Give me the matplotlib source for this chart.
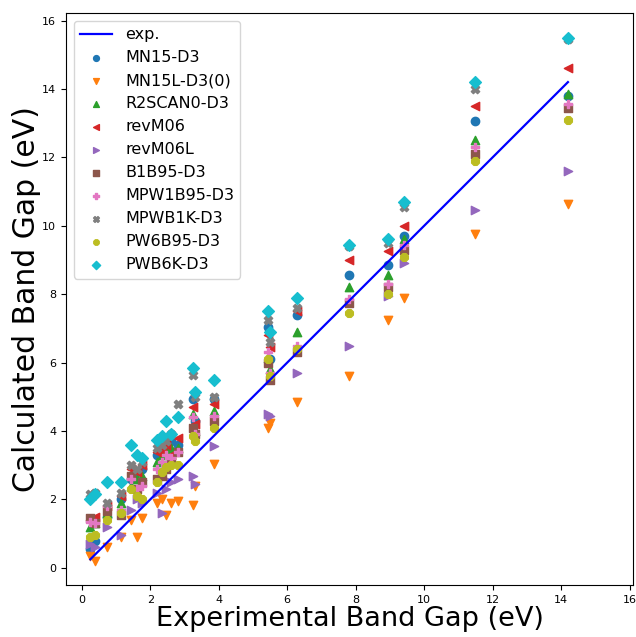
import numpy as np
import matplotlib
matplotlib.use('Agg')
import matplotlib.pyplot as plt

# experimental band gaps (eV)
exp_gap = [0.25, 0.4, 0.75, 1.15, 1.45, 1.6, 1.75, 2.2, 2.35, 2.45, 2.6, 2.8,
           3.25, 3.3, 3.85, 5.45, 5.5, 6.3, 7.8, 8.95, 9.4, 11.5, 14.2]

# calculated band gaps per functional (same order as exp_gap)
mn15 = [0.55, 0.8, 1.5, 2.0, 2.6, 2.8, 2.9, 3.3, 3.5, 3.6, 3.7, 3.6,
        4.95, 4.3, 4.95, 7.05, 6.1, 7.4, 8.55, 8.85, 9.7, 13.05, 13.8]
mn15l = [0.35, 0.2, 0.6, 0.9, 1.4, 0.9, 1.45, 1.9, 2.0, 1.55, 1.9, 1.95,
         1.85, 2.4, 3.05, 4.1, 4.25, 4.85, 5.6, 7.25, 7.9, 9.75, 10.65]
r2scan0 = [1.2, 1.3, 1.6, 1.9, 2.4, 2.6, 2.7, 3.1, 3.3, 3.4, 3.5, 3.5,
           4.5, 4.0, 4.6, 6.15, 5.8, 6.9, 8.2, 8.55, 9.6, 12.5, 13.85]
revm06 = [1.4, 1.5, 1.8, 2.1, 2.9, 2.8, 3.0, 3.4, 3.45, 3.6, 3.3, 3.8,
          4.7, 4.2, 4.8, 6.8, 6.45, 7.5, 9.0, 9.25, 10.0, 13.5, 14.6]
revm06l = [0.7, 0.6, 1.2, 0.95, 1.7, 2.0, 1.9, 2.2, 1.6, 2.3, 2.5, 2.6,
           2.7, 2.45, 3.55, 4.5, 4.45, 5.7, 6.5, 7.95, 8.9, 10.45, 11.6]
b1b95 = [1.45, 1.3, 1.65, 1.55, 2.7, 2.3, 2.5, 2.6, 2.7, 2.9, 3.1, 3.4,
         4.1, 3.9, 4.3, 6.0, 5.5, 6.3, 7.75, 8.2, 9.3, 12.1, 13.45]
mpw1b95 = [1.35, 1.3, 1.8, 1.7, 2.6, 2.3, 2.4, 2.9, 3.1, 3.3, 3.2, 3.4,
           4.4, 3.9, 4.45, 6.3, 5.7, 6.5, 7.85, 8.3, 9.45, 12.3, 13.55]
mpwb1k = [2.15, 2.2, 1.9, 2.2, 3.0, 2.9, 3.1, 3.5, 3.6, 3.7, 3.9, 4.8,
          5.65, 5.0, 5.0, 7.25, 6.6, 7.6, 9.4, 9.5, 10.55, 14.0, 15.45]
pw6b95 = [0.9, 0.95, 1.4, 1.6, 2.3, 2.1, 2.0, 2.5, 2.8, 2.95, 3.0, 3.0,
          3.85, 3.7, 4.1, 6.1, 5.6, 6.4, 7.45, 8.0, 9.1, 11.9, 13.1]
pwb6k = [2.0, 2.15, 2.5, 2.5, 3.6, 3.3, 3.2, 3.75, 3.85, 4.3, 3.9, 4.4,
         5.85, 5.15, 5.5, 7.5, 6.9, 7.9, 9.45, 9.6, 10.7, 14.2, 15.5]

names = ['MN15-D3', 'MN15L-D3(0)', 'R2SCAN0-D3', 'revM06', 'revM06L',
         'B1B95-D3', 'MPW1B95-D3', 'MPWB1K-D3', 'PW6B95-D3', 'PWB6K-D3']
series = [mn15, mn15l, r2scan0, revm06, revm06l, b1b95, mpw1b95, mpwb1k, pw6b95, pwb6k]
markers = ['o', 'v', '^', '<', '>', 's', 'P', 'X', '8', 'D']

fig = plt.figure(figsize=(6.36, 6.37), dpi=100)
ax = fig.add_axes([66 / 636, 1 - 585 / 637, 567 / 636, 572 / 637])

ax.plot(exp_gap, exp_gap, color='blue', linewidth=1.6, label='exp.')
for vals, name, m in zip(series, names, markers):
  ax.scatter(exp_gap, vals, marker=m, s=36, label=name)

ax.set_xlim(-0.46, 16.1)
ax.set_ylim(-0.5, 16.22)
ax.set_xticks(np.arange(0, 17, 2))
ax.set_yticks(np.arange(0, 17, 2))
ax.tick_params(labelsize=8)
ax.set_xlabel('Experimental Band Gap (eV)', fontsize=19.5, labelpad=1)
ax.set_ylabel('Calculated Band Gap (eV)', fontsize=21.5, labelpad=1)
ax.legend(loc='upper left', fontsize=11.5, markerscale=0.7)

fig.savefig('out.png', dpi=100)
